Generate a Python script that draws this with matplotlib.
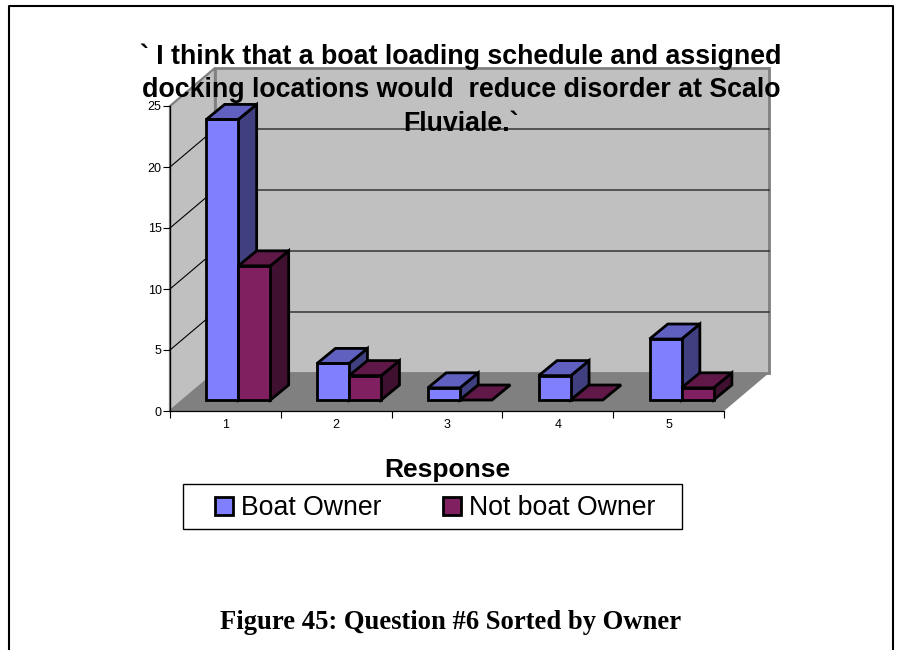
import numpy as np
import matplotlib
matplotlib.use('Agg')
import matplotlib.pyplot as plt
from matplotlib.lines import Line2D
from matplotlib.patches import Patch, Rectangle

plt.rcParams['font.family'] = ['Liberation Sans', 'DejaVu Sans']

# Survey counts per response
responses = ['1', '2', '3', '4', '5']
boat_owner = [23, 3, 1, 2, 5]
not_boat_owner = [11, 2, 0, 0, 1]
y_ticks = [0, 5, 10, 15, 20, 25]

title_text = '` I think that a boat loading schedule and assigned\ndocking locations would  reduce disorder at Scalo\nFluviale.`'

# Fake 3D depth, all in data units
WALL_DX = 0.406
WALL_DY = 3.115
BAR_DX = 0.165
BAR_DY = 1.23
FRONT_DX = 0.117
FRONT_DY = 0.90
BAR_W = 0.289
EDGE = 2.0

W, H = 900, 650
fig = plt.figure(figsize=(9, 6.5), dpi=100, facecolor='white')
ax = fig.add_axes([170 / W, (H - 411) / H, 554 / W, 305 / H])
ax.patch.set_visible(False)
ax.set_xlim(0, 5)
ax.set_ylim(0, 25)


def poly(xs, ys, color, edge='none', lw=0, z=1):
    ax.fill(xs, ys, facecolor=color, edgecolor=edge, linewidth=lw, clip_on=False,
            zorder=z, joinstyle='miter')


# walls and floor
top = y_ticks[-1]
poly([0, WALL_DX, WALL_DX, 0], [0, WALL_DY, top + WALL_DY, top], '#c0c0c0', '#808080', 1.6)
poly([WALL_DX, 5 + WALL_DX, 5 + WALL_DX, WALL_DX],
     [WALL_DY, WALL_DY, top + WALL_DY, top + WALL_DY], '#c0c0c0', '#808080', 2.0)
poly([0, 5, 5 + WALL_DX, WALL_DX], [0, 0, WALL_DY, WALL_DY], '#808080')

# gridlines on both walls
for v in y_ticks[1:-1]:
    ax.plot([0, WALL_DX, 5 + WALL_DX], [v, v + WALL_DY, v + WALL_DY], color='black', lw=0.8,
            clip_on=False, zorder=2)


def bar3d(x, v, front, side, roof):
    y0 = FRONT_DY
    y1 = FRONT_DY + v
    z = 3 + x
    if v > 0:
        poly([x + BAR_W, x + BAR_W + BAR_DX, x + BAR_W + BAR_DX, x + BAR_W],
             [y0, y0 + BAR_DY, y1 + BAR_DY, y1], side, 'black', EDGE, z)
        poly([x, x + BAR_W, x + BAR_W, x], [y0, y0, y1, y1], front, 'black', EDGE, z)
    poly([x, x + BAR_W, x + BAR_W + BAR_DX, x + BAR_DX],
         [y1, y1, y1 + BAR_DY, y1 + BAR_DY], roof, 'black', EDGE, z)


for i in range(len(responses)):
    left = i + 0.5 + FRONT_DX - BAR_W
    bar3d(left, boat_owner[i], '#8080ff', '#404080', '#6060c0')
    bar3d(left + BAR_W, not_boat_owner[i], '#802060', '#401030', '#601848')

# axes
for name in ['top', 'right']:
    ax.spines[name].set_visible(False)
ax.spines['left'].set_linewidth(0.9)
ax.spines['bottom'].set_linewidth(0.9)
ax.spines['left'].set_zorder(2.5)
ax.spines['bottom'].set_zorder(2.5)
ax.set_yticks(y_ticks)
ax.set_xticks(range(6))
ax.set_xticklabels([])
ax.set_xticks(np.arange(len(responses)) + 0.5, minor=True)
ax.set_xticklabels(responses, minor=True)
ax.tick_params(axis='x', which='minor', length=0, labelsize=9, pad=6)
ax.tick_params(axis='x', which='major', length=5, width=0.8)
ax.tick_params(axis='y', length=5, width=0.8, labelsize=9, pad=1)

fig.text(461 / W, 1 - 90 / H, title_text, ha='center', va='center', fontsize=19.3, fontweight='bold',
         linespacing=1.38, zorder=20)
fig.text(447 / W, 1 - 469.5 / H, 'Response', ha='center', va='center', fontsize=19, fontweight='bold')

# legend box under the axis title
fig.add_artist(Rectangle((183 / W, 1 - 529 / H), 499 / W, 45 / H, transform=fig.transFigure,
                         facecolor='white', edgecolor='black', linewidth=1.0))
handles = [Patch(facecolor='#8080ff', edgecolor='black', linewidth=EDGE, label='Boat Owner'),
           Patch(facecolor='#802060', edgecolor='black', linewidth=EDGE, label='Not boat Owner')]
leg = fig.legend(handles=handles, ncol=2, loc='center', bbox_to_anchor=(435 / W, 1 - 508 / H),
                 fontsize=19.2, frameon=False, handlelength=0.67, handleheight=0.67,
                 handletextpad=0.3, columnspacing=2.3, borderpad=0, borderaxespad=0)
leg.set_zorder(5)

fig.text(451 / W, 1 - 622.5 / H, 'Figure 45: Question #6 Sorted by Owner', ha='center', va='center',
         fontsize=19.2, fontweight='bold', family='Liberation Serif')

# page frame, open at the bottom
fig.add_artist(Line2D([9 / W, 9 / W, 893 / W, 893 / W], [0, 1 - 6 / H, 1 - 6 / H, 0], color='black', lw=1.5))

fig.savefig('out.png', dpi=100)
